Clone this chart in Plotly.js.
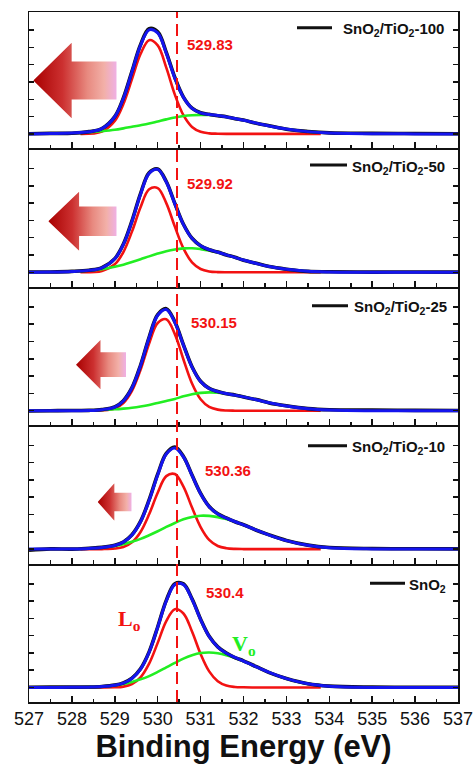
<!DOCTYPE html>
<html>
<head>
<meta charset="utf-8">
<script src="https://cdn.plot.ly/plotly-3.0.1.min.js"></script>
<style>html,body{margin:0;padding:0;background:#fff;}#chart{width:474px;height:771px;}</style>
</head>
<body>
<div id="chart"></div>
<script>
// ---------- data ----------
const X_DATA = [527, 527.5, 528, 528.4, 528.7, 529, 529.2, 529.4, 529.6, 529.8, 530, 530.2, 530.4, 530.6, 530.8, 531, 531.2, 531.4, 531.6, 531.8, 532, 532.3, 532.6, 533, 533.5, 534, 535, 536, 537];
const X_FIT = [528.2, 528.7, 529, 529.2, 529.4, 529.6, 529.8, 530, 530.2, 530.4, 530.6, 530.8, 531, 531.2, 531.4, 531.6, 531.8, 532, 532.3, 532.6, 533, 533.5, 533.8];

const SAMPLE_NAMES = ['SnO<sub>2</sub>/TiO<sub>2</sub>-100', 'SnO<sub>2</sub>/TiO<sub>2</sub>-50', 'SnO<sub>2</sub>/TiO<sub>2</sub>-25', 'SnO<sub>2</sub>/TiO<sub>2</sub>-10', 'SnO<sub>2</sub>'];
const PEAK_LABELS = ['529.83', '529.92', '530.15', '530.36', '530.4'];
const REF_E = 530.45;

// measured raw data (black)
const DATA_100 = [0.01, 0.03, 0.04, 0.13, 0.31, 1.00, 2.08, 3.62, 5.16, 6.08, 5.90, 4.72, 3.26, 2.13, 1.49, 1.22, 1.13, 1.05, 0.99, 0.88, 0.80, 0.61, 0.47, 0.27, 0.14, 0.06, 0.03, 0.02, 0.01];
const DATA_50  = [0.02, 0.02, 0.05, 0.12, 0.27, 0.79, 1.63, 2.97, 4.55, 5.76, 5.98, 5.25, 3.98, 2.78, 1.97, 1.54, 1.30, 1.17, 1.00, 0.87, 0.70, 0.52, 0.33, 0.18, 0.05, 0.03, 0.01, 0.02, 0.01];
const DATA_25  = [-0.02, 0.00, 0.01, 0.02, 0.07, 0.22, 0.58, 1.33, 2.63, 4.25, 5.56, 5.90, 5.14, 3.81, 2.54, 1.70, 1.29, 1.11, 0.98, 0.91, 0.79, 0.64, 0.45, 0.28, 0.12, 0.05, 0.03, 0.02, 0.01];
const DATA_10  = [-0.06, 0.01, 0.00, 0.05, 0.10, 0.22, 0.41, 0.83, 1.60, 2.84, 4.33, 5.53, 5.90, 5.36, 4.28, 3.22, 2.46, 2.04, 1.80, 1.58, 1.41, 1.09, 0.82, 0.50, 0.23, 0.09, 0.03, 0.02, 0.01];
const DATA_0   = [0.01, 0.02, 0.02, 0.03, 0.06, 0.14, 0.27, 0.54, 1.08, 2.06, 3.50, 5.04, 6.00, 5.99, 5.13, 3.95, 2.96, 2.35, 1.99, 1.73, 1.54, 1.20, 0.86, 0.52, 0.22, 0.08, 0.02, 0.01, 0.01];

// fitted envelope (blue)
const ENV_100 = [0.00, 0.02, 0.05, 0.12, 0.30, 0.99, 2.05, 3.58, 5.12, 6.02, 5.84, 4.67, 3.22, 2.11, 1.48, 1.22, 1.12, 1.06, 0.98, 0.89, 0.79, 0.62, 0.46, 0.28, 0.13, 0.05, 0.01, 0.00, 0.00];
const ENV_50  = [0.00, 0.01, 0.04, 0.11, 0.26, 0.78, 1.61, 2.94, 4.51, 5.72, 5.95, 5.22, 3.96, 2.76, 1.96, 1.53, 1.31, 1.16, 1.01, 0.86, 0.71, 0.51, 0.33, 0.17, 0.06, 0.02, 0.00, 0.00, 0.00];
const ENV_25  = [0.00, 0.00, 0.00, 0.01, 0.06, 0.21, 0.56, 1.31, 2.60, 4.22, 5.52, 5.85, 5.11, 3.79, 2.52, 1.69, 1.28, 1.10, 0.99, 0.90, 0.80, 0.63, 0.46, 0.27, 0.11, 0.04, 0.00, 0.00, 0.00];
const ENV_10  = [0.00, 0.00, 0.01, 0.04, 0.09, 0.21, 0.40, 0.81, 1.58, 2.81, 4.29, 5.50, 5.85, 5.33, 4.26, 3.20, 2.45, 2.03, 1.79, 1.59, 1.40, 1.10, 0.81, 0.49, 0.22, 0.08, 0.01, 0.00, 0.00];
const ENV_0   = [0.00, 0.00, 0.01, 0.02, 0.05, 0.13, 0.25, 0.52, 1.06, 2.04, 3.48, 5.00, 5.95, 5.95, 5.10, 3.93, 2.95, 2.34, 1.98, 1.74, 1.53, 1.19, 0.87, 0.51, 0.21, 0.07, 0.00, 0.00, 0.00];

// lattice oxygen component L_o (red)
const LO_100 = [0, 0.14, 0.75, 1.73, 3.17, 4.62, 5.42, 5.12, 3.83, 2.27, 1.08, 0.40, 0.12, 0.03, 0.01, 0, 0, 0, 0, 0, 0, 0, 0];
const LO_50  = [0, 0.08, 0.46, 1.17, 2.35, 3.76, 4.80, 4.87, 4.00, 2.64, 1.38, 0.57, 0.19, 0.05, 0.01, 0, 0, 0, 0, 0, 0, 0, 0];
const LO_25  = [0, 0.02, 0.13, 0.44, 1.14, 2.36, 3.89, 5.07, 5.29, 4.43, 2.96, 1.57, 0.66, 0.22, 0.06, 0.01, 0, 0, 0, 0, 0, 0, 0];
const LO_10  = [0, 0, 0.03, 0.12, 0.39, 0.99, 2.01, 3.26, 4.22, 4.34, 3.61, 2.40, 1.27, 0.53, 0.18, 0.05, 0.01, 0, 0, 0, 0, 0, 0];
const LO_0   = [0, 0, 0.01, 0.05, 0.20, 0.59, 1.38, 2.58, 3.84, 4.53, 4.28, 3.24, 1.94, 0.93, 0.36, 0.11, 0.03, 0.01, 0, 0, 0, 0, 0];

// oxygen vacancy component V_o (green)
const VO_100 = [0.06, 0.16, 0.24, 0.32, 0.41, 0.50, 0.60, 0.72, 0.84, 0.95, 1.03, 1.08, 1.10, 1.09, 1.05, 0.98, 0.89, 0.79, 0.62, 0.46, 0.28, 0.13, 0.07];
const VO_50  = [0.06, 0.18, 0.32, 0.44, 0.59, 0.75, 0.92, 1.08, 1.22, 1.32, 1.38, 1.39, 1.34, 1.26, 1.15, 1.01, 0.86, 0.71, 0.51, 0.33, 0.17, 0.06, 0.03];
const VO_25  = [0.01, 0.04, 0.08, 0.12, 0.17, 0.24, 0.33, 0.45, 0.56, 0.68, 0.83, 0.95, 1.03, 1.06, 1.04, 0.98, 0.90, 0.80, 0.63, 0.46, 0.27, 0.11, 0.06];
const VO_10  = [0.02, 0.09, 0.18, 0.28, 0.42, 0.59, 0.80, 1.03, 1.28, 1.51, 1.72, 1.86, 1.93, 1.92, 1.85, 1.74, 1.58, 1.40, 1.10, 0.81, 0.49, 0.22, 0.13];
const VO_0   = [0.01, 0.05, 0.12, 0.20, 0.32, 0.47, 0.66, 0.90, 1.16, 1.42, 1.67, 1.86, 1.99, 2.02, 1.98, 1.87, 1.71, 1.52, 1.19, 0.87, 0.51, 0.21, 0.12];

const DATA = [DATA_100, DATA_50, DATA_25, DATA_10, DATA_0];
const ENV = [ENV_100, ENV_50, ENV_25, ENV_10, ENV_0];
const LO = [LO_100, LO_50, LO_25, LO_10, LO_0];
const VO = [VO_100, VO_50, VO_25, VO_10, VO_0];

// ---------- layout helpers ----------
const W = 474, H = 771;
const M = {l: 29, r: 16, t: 12, b: 69};
const PW = W - M.l - M.r, PH = H - M.t - M.b;
const GAP = 2, NP = 5;
const PANEL_H = (PH - GAP * (NP - 1)) / NP;
const xp = px => (px - M.l) / PW;
const yp = py => (H - M.b - py) / PH;

const RED = '#f21212', BLUE = '#1414ee', GREEN = '#22ee22';
const FONT = 'Liberation Sans, Arial, Helvetica, sans-serif';
const SERIF = 'Liberation Serif, Times New Roman, serif';

const traces = [];
const layout = {
  width: W, height: H, margin: M,
  paper_bgcolor: '#fff', plot_bgcolor: '#fff',
  showlegend: false,
  font: {family: FONT, color: '#111'},
  shapes: [], annotations: [], images: []
};

for (let i = 0; i < NP; i++) {
  const sfx = i === 0 ? '' : String(i + 1);
  const xa = 'x' + sfx, ya = 'y' + sfx;
  const top = i * (PANEL_H + GAP);
  const dom = [1 - (top + PANEL_H) / PH, 1 - top / PH];
  const bottom = i === NP - 1;
  const xax = {
    anchor: ya, range: [527, 537], dtick: 1, tick0: 527,
    ticks: 'inside', ticklen: 6, tickwidth: 1.5, tickcolor: '#111',
    minor: {dtick: 0.5, ticks: 'inside', ticklen: 3.5, tickwidth: 1.5, tickcolor: '#111'},
    showline: true, linecolor: '#111', linewidth: 1.5, mirror: true,
    showgrid: false, zeroline: false,
    showticklabels: bottom,
    tickfont: {size: 18, family: FONT, color: '#111'}
  };
  if (bottom) xax.title = {text: '<b>Binding Energy (eV)</b>', font: {size: 31, family: FONT, color: '#111'}, standoff: 4};
  if (i > 0) xax.matches = 'x';
  layout['xaxis' + sfx] = xax;
  layout['yaxis' + sfx] = {
    anchor: xa, domain: dom, range: [-0.84, 7.05], dtick: 1, tick0: 0,
    ticks: 'inside', ticklen: 5, tickwidth: 1.5, tickcolor: '#111',
    showline: true, linecolor: '#111', linewidth: 1.5, mirror: 'ticks',
    showgrid: false, zeroline: false, showticklabels: false
  };

  traces.push({x: X_FIT, y: LO[i], xaxis: xa, yaxis: ya, mode: 'lines', line: {color: RED, width: 2.6, shape: 'spline'}, hoverinfo: 'skip'});
  traces.push({x: X_FIT, y: VO[i], xaxis: xa, yaxis: ya, mode: 'lines', line: {color: GREEN, width: 2.6, shape: 'spline'}, hoverinfo: 'skip'});
  traces.push({x: X_DATA, y: DATA[i], xaxis: xa, yaxis: ya, mode: 'lines', line: {color: '#111', width: 3.6, shape: 'spline'}, hoverinfo: 'skip'});
  traces.push({x: X_DATA, y: ENV[i], xaxis: xa, yaxis: ya, mode: 'lines', line: {color: BLUE, width: 3, shape: 'spline'}, hoverinfo: 'skip'});
}

// legend-like sample labels (black line + bold name)
const LEG = [
  {x0: 297, x1: 332, y: 27.7, tx: 446},
  {x0: 310, x1: 347, y: 165, tx: 447},
  {x0: 312, x1: 348, y: 305.7, tx: 449},
  {x0: 308, x1: 347, y: 445.7, tx: 447},
  {x0: 370, x1: 405, y: 583.3, tx: 448}
];
LEG.forEach((g, i) => {
  layout.shapes.push({type: 'line', xref: 'paper', yref: 'paper', x0: xp(g.x0), x1: xp(g.x1), y0: yp(g.y), y1: yp(g.y), line: {color: '#111', width: 3}});
  layout.annotations.push({xref: 'paper', yref: 'paper', x: xp(g.tx), y: yp(g.y + 2), xanchor: 'right', yanchor: 'middle', showarrow: false,
    text: '<b>' + SAMPLE_NAMES[i] + '</b>', font: {size: 15, family: FONT, color: '#111'}});
});

// peak position labels
const PL = [[185, 45], [185, 183], [189, 322], [203, 470], [204, 592]];
PL.forEach((p, i) => {
  layout.annotations.push({xref: 'paper', yref: 'paper', x: xp(p[0]), y: yp(p[1]), xanchor: 'left', yanchor: 'middle', showarrow: false,
    text: '<b>' + PEAK_LABELS[i] + '</b>', font: {size: 15, family: FONT, color: RED}});
});

// L_o and V_o labels
layout.annotations.push({xref: 'paper', yref: 'paper', x: xp(116), y: yp(620), xanchor: 'left', yanchor: 'middle', showarrow: false,
  text: '<b>L<sub>o</sub></b>', font: {size: 22, family: SERIF, color: RED}});
layout.annotations.push({xref: 'paper', yref: 'paper', x: xp(230), y: yp(645), xanchor: 'left', yanchor: 'middle', showarrow: false,
  text: '<b>V<sub>o</sub></b>', font: {size: 22, family: SERIF, color: GREEN}});

// reference dashed line
layout.shapes.push({type: 'line', xref: 'x5', yref: 'paper', x0: REF_E, x1: REF_E, y0: 0, y1: 1, line: {color: RED, width: 2, dash: '12px,6px'}});

// shift arrows (gradient-filled)
function arrowSvg(hx) {
  const h = (hx * 100).toFixed(1);
  const svg = '<svg xmlns="http://www.w3.org/2000/svg" viewBox="0 0 100 100" preserveAspectRatio="none">' +
    '<defs><linearGradient id="g" x1="0" y1="0" x2="1" y2="0">' +
    '<stop offset="0" stop-color="#a80000"/><stop offset="0.35" stop-color="#cc3030"/>' +
    '<stop offset="0.65" stop-color="#e88a80"/><stop offset="0.85" stop-color="#f2b0a8"/>' +
    '<stop offset="1" stop-color="#efb0e6"/></linearGradient></defs>' +
    '<polygon fill="url(#g)" points="0,50 ' + h + ',0 ' + h + ',25 100,25 100,75 ' + h + ',75 ' + h + ',100"/></svg>';
  return 'data:image/svg+xml;charset=utf-8,' + encodeURIComponent(svg);
}
const ARROWS = [
  {x0: 33.3, x1: 116.7, y0: 42.7, y1: 118.3, hx: 0.46},
  {x0: 48.3, x1: 116.7, y0: 191.7, y1: 250.7, hx: 0.45},
  {x0: 76, x1: 126, y0: 340, y1: 389.3, hx: 0.49},
  {x0: 97.7, x1: 131.7, y0: 483.3, y1: 520.7, hx: 0.49}
];
ARROWS.forEach(a => {
  layout.images.push({source: arrowSvg(a.hx), xref: 'paper', yref: 'paper', x: xp(a.x0), y: yp(a.y0),
    sizex: (a.x1 - a.x0) / PW, sizey: (a.y1 - a.y0) / PH, sizing: 'stretch', xanchor: 'left', yanchor: 'top', layer: 'above'});
});

Plotly.newPlot('chart', traces, layout, {staticPlot: true, displayModeBar: false});
</script>
</body>
</html>
